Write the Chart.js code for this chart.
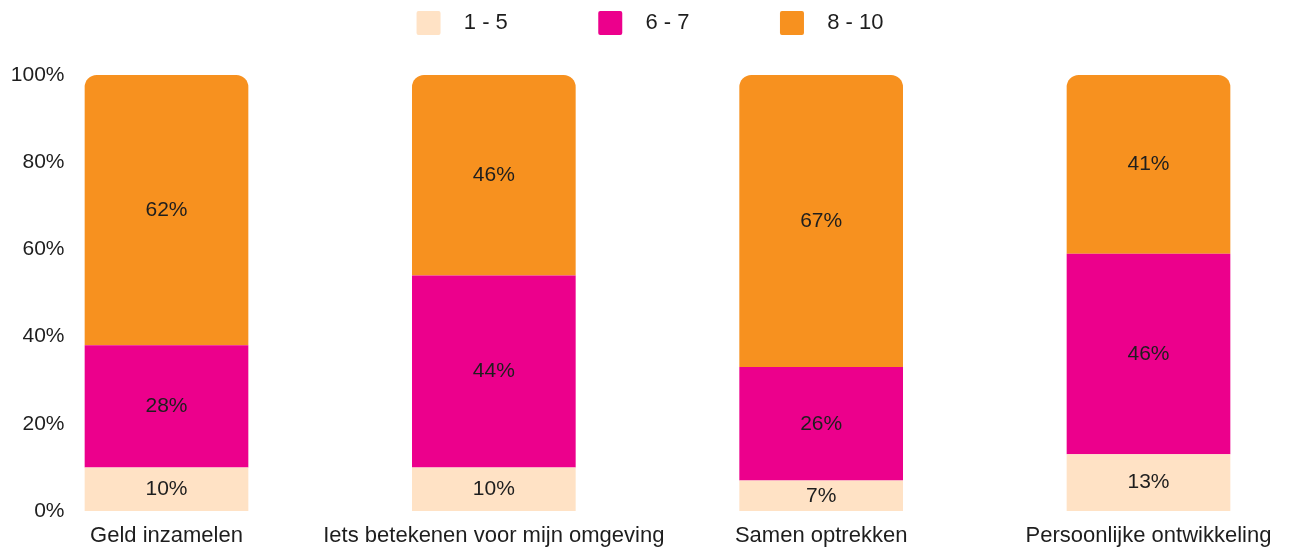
<!DOCTYPE html>
<html>
<head>
<meta charset="utf-8">
<title>Waardering</title>
<script src="https://cdn.jsdelivr.net/npm/chart.js@4/dist/chart.umd.min.js"></script>
<style>
  html, body { margin: 0; padding: 0; background: #fff; }
  canvas { display: block; }
</style>
</head>
<body>
<canvas id="myChart" width="1289" height="549"></canvas>
<script>
// data
var categories = ['Geld inzamelen', 'Iets betekenen voor mijn omgeving', 'Samen optrekken', 'Persoonlijke ontwikkeling']
var seriesNames = ['1 - 5', '6 - 7', '8 - 10']
var score15 = [10, 10, 7, 13]
var score67 = [28, 44, 26, 46]
var score810 = [62, 46, 67, 41]
var yTicks = [0, 20, 40, 60, 80, 100]

var colors = ['#FFE2C5', '#EC008C', '#F7911F']
var textColor = '#1e1e1e'
var font = 'Liberation Sans, Arial, sans-serif'

// extra room between legend and plot
var legendGap = {
    id: 'legendGap',
    beforeInit: function (chart) {
        var fit = chart.legend.fit
        chart.legend.fit = function () {
            fit.bind(chart.legend)()
            this.height += 30
        }
    }
}

// percentage in the middle of every segment
var segmentLabels = {
    id: 'segmentLabels',
    afterDatasetsDraw: function (chart) {
        let ctx = chart.ctx
        ctx.save()
        ctx.font = '21px ' + font
        ctx.fillStyle = textColor
        ctx.textAlign = 'center'
        ctx.textBaseline = 'middle'
        chart.data.datasets.forEach(function (ds, i) {
            chart.getDatasetMeta(i).data.forEach(function (bar, j) {
                let p = bar.getCenterPoint()
                ctx.fillText(ds.data[j] + '%', p.x, p.y)
            })
        })
        ctx.restore()
    }
}

let ctx = document.getElementById('myChart').getContext('2d');
let myChart = new Chart(ctx, {
    type: 'bar',
    data: {
        labels: categories,
        datasets: [{
            label: seriesNames[0],
            data: score15,
            backgroundColor: colors[0],
            clip: false
        }, {
            label: seriesNames[1],
            data: score67,
            backgroundColor: colors[1],
            clip: false
        }, {
            label: seriesNames[2],
            data: score810,
            backgroundColor: colors[2],
            borderRadius: { topLeft: 12, topRight: 12 },
            borderSkipped: false,
            clip: false
        }]
    },
    options: {
        responsive: false,
        animation: false,
        layout: { padding: { left: 11, top: 0, right: 0, bottom: 0 } },
        datasets: {
            bar: { categoryPercentage: 1, barPercentage: 0.5 }
        },
        plugins: {
            tooltip: { enabled: false },
            legend: {
                position: 'top',
                align: 'center',
                labels: {
                    boxWidth: 24,
                    boxHeight: 24,
                    padding: 11,
                    color: textColor,
                    useBorderRadius: true,
                    borderRadius: 2,
                    font: { family: font, size: 22 },
                    generateLabels: function (chart) {
                        let items = Chart.defaults.plugins.legend.labels.generateLabels(chart)
                        items.forEach(function (it, k) {
                            let tail = k < items.length - 1 ? ' '.repeat(13) : ''
                            it.text = '  ' + it.text + tail
                        })
                        return items
                    }
                }
            }
        },
        scales: {
            x: {
                stacked: true,
                offset: false,
                grid: { display: false, drawTicks: false },
                border: { display: false },
                afterFit: function (scale) {
                    scale.height = 38
                    scale.paddingLeft = 0
                    scale.paddingRight = 0
                },
                ticks: {
                    autoSkip: false,
                    maxRotation: 0,
                    padding: 12,
                    color: textColor,
                    font: { family: font, size: 22 }
                }
            },
            y: {
                stacked: true,
                min: 0,
                max: 100,
                grid: { display: false, drawTicks: false },
                border: { display: false },
                afterBuildTicks: function (scale) {
                    scale.ticks = yTicks.map(function (v) { return { value: v } })
                },
                afterFit: function (scale) {
                    // labels sit far left of the bars
                    scale.width = 155.5
                    scale.paddingTop = 12
                    scale.paddingBottom = 0
                },
                ticks: {
                    padding: 102,
                    color: textColor,
                    font: { family: font, size: 21 },
                    callback: function (v) { return v + '%' }
                }
            },
            yRight: {
                type: 'linear',
                position: 'right',
                grid: { display: false, drawTicks: false },
                border: { display: false },
                ticks: { display: false },
                afterFit: function (scale) { scale.width = 140.5 }
            }
        }
    },
    plugins: [legendGap, segmentLabels]
});
</script>
</body>
</html>
